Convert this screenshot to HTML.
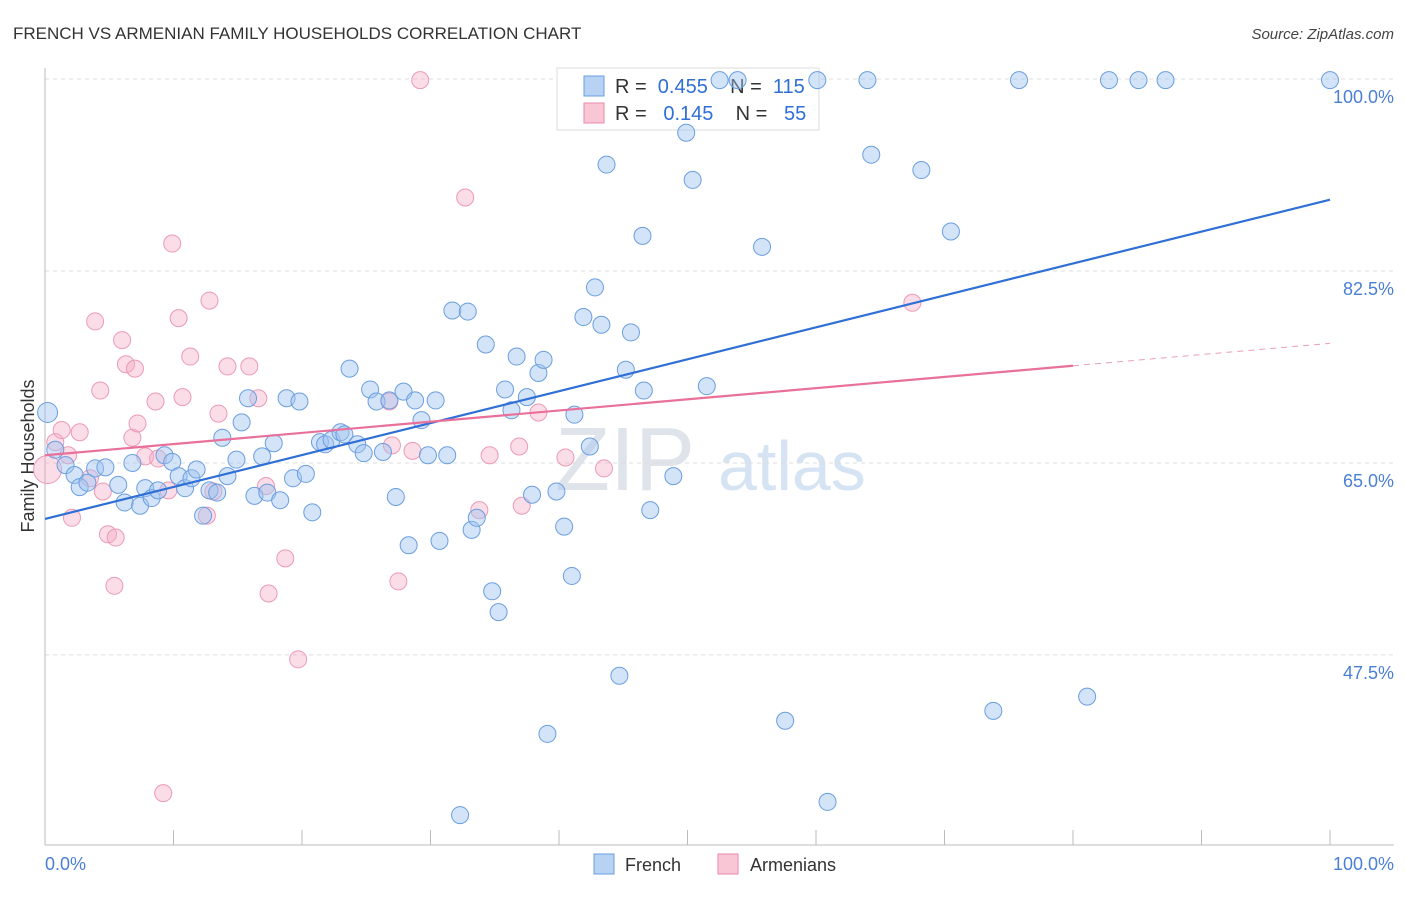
<!DOCTYPE html>
<html><head><meta charset="utf-8">
<style>
body{margin:0;background:#fff;font-family:"Liberation Sans",sans-serif;}
svg text{font-family:"Liberation Sans",sans-serif;}
</style></head>
<body>
<svg id="chart" width="1406" height="892" viewBox="0 0 1406 892">
<text x="13" y="39" font-size="17" fill="#333">FRENCH VS ARMENIAN FAMILY HOUSEHOLDS CORRELATION CHART</text>
<text x="1394" y="39" font-size="15" fill="#444" text-anchor="end" font-style="italic">Source: ZipAtlas.com</text>
<text x="555" y="490" font-size="90" fill="#dfe3ea" font-family="Liberation Serif">ZIP</text>
<text x="718" y="490" font-size="70" fill="#d5e3f3">atlas</text>
<g id="grid"></g>
<line x1="45" y1="68" x2="45" y2="845" stroke="#bbb"/>
<line x1="45" y1="845" x2="1394" y2="845" stroke="#bbb"/>
<g id="xticks"></g>
<text transform="translate(34,456) rotate(-90)" font-size="18" fill="#333" text-anchor="middle">Family Households</text>
<text x="45" y="870" font-size="18" fill="#4a7fd4">0.0%</text>
<text x="1394" y="870" font-size="18" fill="#4a7fd4" text-anchor="end">100.0%</text>
<g>
<rect x="557" y="68" width="262" height="62" fill="#fff" stroke="#ddd"/>
<rect x="584" y="76" width="20" height="20" fill="#b8d2f4" stroke="#6a9ee0"/>
<rect x="584" y="103" width="20" height="20" fill="#f8c6d4" stroke="#e88aa8"/>
<text x="615" y="93" font-size="20" fill="#333" xml:space="preserve">R =  <tspan fill="#2f6fd6">0.455</tspan>    N =  <tspan fill="#2f6fd6">115</tspan></text>
<text x="615" y="120" font-size="20" fill="#333" xml:space="preserve">R =   <tspan fill="#2f6fd6">0.145</tspan>    N =   <tspan fill="#2f6fd6">55</tspan></text>
</g>
<g id="points"></g>
<g id="lines"></g>
<g><rect x="594" y="854" width="20" height="20" fill="#b8d2f4" stroke="#6a9ee0"/><text x="625" y="871" font-size="18" fill="#333">French</text></g>
<g><rect x="718" y="854" width="20" height="20" fill="#f8c6d4" stroke="#e88aa8"/><text x="750" y="871" font-size="18" fill="#333">Armenians</text></g>
</svg>
<script>
const yTicks=[100,82.5,65,47.5];
const yTickLabels=["100.0%","82.5%","65.0%","47.5%"];
const xTicks=[0,10,20,30,40,50,60,70,80,90,100];
const frenchX=[0.2,0.8,1.6,2.3,2.7,3.3,3.9,4.7,5.7,6.2,6.8,7.4,7.8,8.3,8.8,9.3,9.9,10.4,10.9,11.4,11.8,12.3,12.8,13.4,13.8,14.2,14.9,15.3,15.8,16.3,16.9,17.3,17.8,18.3,18.8,19.3,19.8,20.3,20.8,21.4,21.8,22.3,23.0,23.3,23.7,24.3,24.8,25.3,25.8,26.3,26.8,27.3,27.9,28.3,28.8,29.3,29.8,30.4,30.7,31.3,31.7,32.3,32.9,33.2,33.6,34.3,34.8,35.3,35.8,36.3,36.7,37.5,37.9,38.4,38.8,39.1,39.8,40.4,41.0,41.2,41.9,42.4,42.8,43.3,43.7,44.7,45.2,45.6,46.5,46.6,47.1,48.9,49.9,50.4,51.5,52.5,53.9,55.8,57.6,60.1,60.9,64.0,64.3,68.2,70.5,73.8,75.8,81.1,82.8,85.1,87.2,100];
const frenchY=[69.6,66.2,64.8,63.9,62.8,63.2,64.5,64.6,63.0,61.4,65.0,61.1,62.7,61.8,62.5,65.7,65.1,63.8,62.7,63.6,64.4,60.2,62.5,62.3,67.3,63.8,65.3,68.7,70.9,62.0,65.6,62.3,66.8,61.6,70.9,63.6,70.6,64.0,60.5,66.9,66.7,67.1,67.8,67.6,73.6,66.7,65.9,71.7,70.6,66.0,70.7,61.9,71.5,57.5,70.7,68.9,65.7,70.7,57.9,65.7,78.9,32.9,78.8,58.9,60.0,75.8,53.3,51.4,71.7,69.8,74.7,71.0,62.1,73.2,74.4,40.3,62.4,59.2,54.7,69.4,78.3,66.5,81.0,77.6,92.2,45.6,73.5,76.9,85.7,71.6,60.7,63.8,95.1,90.8,72.0,99.9,99.9,84.7,41.5,99.9,34.1,99.9,93.1,91.7,86.1,42.4,99.9,43.7,99.9,99.9,99.9,99.9];
const armX=[0.2,0.8,1.3,1.8,2.1,2.7,3.5,3.9,4.3,4.5,4.9,5.4,5.5,6.0,6.3,6.8,7.0,7.2,7.8,8.6,8.8,9.2,9.6,9.9,10.4,10.7,11.3,12.6,12.8,13.1,13.5,14.2,15.9,16.6,17.2,17.4,18.7,19.7,26.8,27.0,27.5,28.6,29.2,32.7,33.8,34.6,36.9,37.1,38.4,40.5,43.5,67.5];
const armY=[64.4,66.9,68.0,65.7,60.0,67.8,63.6,77.9,71.6,62.4,58.5,53.8,58.2,76.2,74.0,67.3,73.6,68.6,65.6,70.6,65.4,34.9,62.5,85.0,78.2,71.0,74.7,60.2,79.8,62.4,69.5,73.8,73.8,70.9,62.9,53.1,56.3,47.1,70.6,66.6,54.2,66.1,99.9,89.2,60.7,65.7,66.5,61.1,69.6,65.5,64.5,79.6];
const frenchTrend=[59.9,89.0];
const armTrend=[65.7,75.9];
const armSolidEnd=80;
const NS="http://www.w3.org/2000/svg";
const sx=v=>45+v*12.85;
const sy=v=>79+(100-v)*10.97;
function mk(tag,attrs,parent){const e=document.createElementNS(NS,tag);for(const k in attrs)e.setAttribute(k,attrs[k]);parent.appendChild(e);return e;}
const grid=document.getElementById('grid');
yTicks.forEach((t,i)=>{
 const l=mk('line',{x1:45,x2:1394,y1:sy(t),y2:sy(t),stroke:'#ddd','stroke-dasharray':'4,4'},grid);
 
 
 const tx=mk('text',{x:1394,y:sy(t)+24,'font-size':18,fill:'#4a7fd4','text-anchor':'end'},grid);
 tx.textContent=yTickLabels[i];
 
 
});
const xt=document.getElementById('xticks');
xTicks.forEach(t=>{
 const l=mk('line',{x1:sx(t),x2:sx(t),y1:830,y2:845,stroke:'#bbb'},xt);
 
 
});
const pts=document.getElementById('points');
armX.forEach((x,i)=>{
 const c=mk('circle',{cx:sx(x),cy:sy(armY[i]),r:i==0?14:8.5,fill:'rgba(245,170,195,0.4)',stroke:'#ec9ab5','stroke-width':1},pts);
 
 
});
frenchX.forEach((x,i)=>{
 const c=mk('circle',{cx:sx(x),cy:sy(frenchY[i]),r:i==0?10:8.5,fill:'rgba(160,195,240,0.45)',stroke:'#6a9ee0','stroke-width':1},pts);
 
 
});
const ln=document.getElementById('lines');
const fl=mk('line',{x1:sx(0),y1:sy(frenchTrend[0]),x2:sx(100),y2:sy(frenchTrend[1]),stroke:'#2f6fd6','stroke-width':2.2},ln);


const am=v=>armTrend[0]+(armTrend[1]-armTrend[0])*v/100;
const al=mk('line',{x1:sx(0),y1:sy(am(0)),x2:sx(armSolidEnd),y2:sy(am(armSolidEnd)),stroke:'#e8709a','stroke-width':2.2},ln);


const ad=mk('line',{x1:sx(armSolidEnd),y1:sy(am(armSolidEnd)),x2:sx(100),y2:sy(am(100)),stroke:'#e8a0b8','stroke-width':1,'stroke-dasharray':'6,5'},ln);


</script>
</body></html>
